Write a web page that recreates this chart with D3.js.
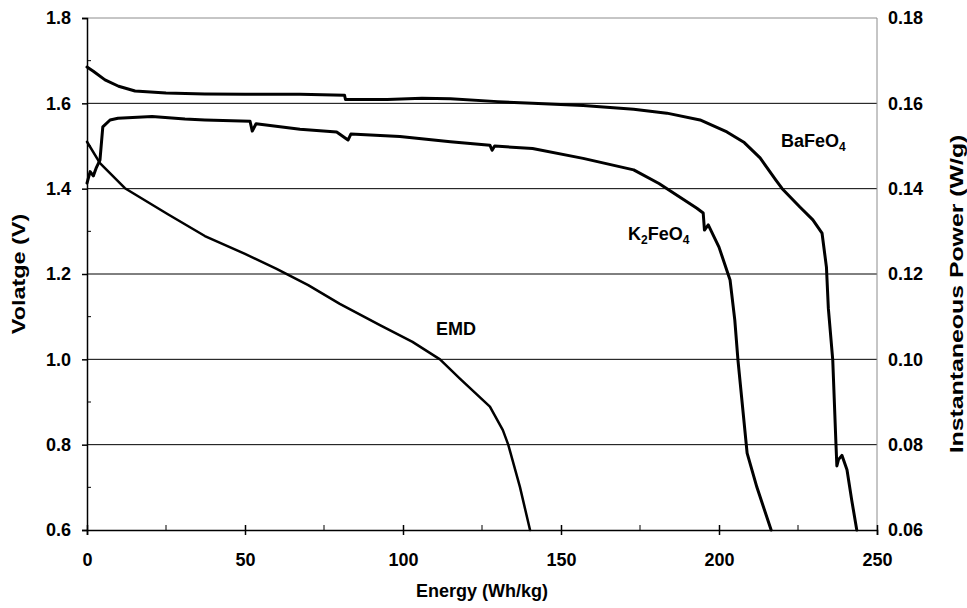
<!DOCTYPE html>
<html lang="en">
<head>
  <meta charset="UTF-8">
  <title>Discharge curves</title>
  <script src="https://d3js.org/d3.v7.min.js"></script>
  <style>
    body { margin: 0; background: #fff; font-family: "Liberation Sans", Arial, sans-serif; }
    .tick text { font-family: "Liberation Sans", Arial, sans-serif; font-weight: bold; font-size: 18px; fill: #000; }
    .title { font-weight: bold; font-size: 18px; }
    .curve { fill: none; stroke: #000; stroke-linejoin: round; stroke-linecap: round; }
    .lbl { font-weight: bold; font-size: 18px; }
  </style>
</head>
<body>
<svg id="chart" width="967" height="608"></svg>
<script>
  // energy (Wh/kg), voltage (V)
  const baEnergy = [0, 2, 5.7, 10, 15.2, 25, 37.3, 50, 67.4, 81.5, 81.8, 95, 106, 115, 130, 141, 157, 173, 183.5, 194, 202.5, 208, 213, 218, 220, 225.6, 229.7, 232.6, 234, 234.6, 236, 237, 237.3, 237.8, 238.9, 240.5, 242, 243.6];
  const baVolt   = [1.685, 1.675, 1.655, 1.64, 1.629, 1.624, 1.622, 1.621, 1.621, 1.619, 1.609, 1.609, 1.612, 1.611, 1.604, 1.600, 1.595, 1.586, 1.577, 1.561, 1.533, 1.508, 1.472, 1.42, 1.40, 1.357, 1.327, 1.296, 1.216, 1.12, 0.998, 0.804, 0.75, 0.765, 0.775, 0.741, 0.67, 0.6];

  const kEnergy = [0, 1, 2, 3, 4.1, 5, 7.3, 9.8, 20.6, 31, 37.3, 51.6, 52.3, 53.5, 67.4, 79, 82.6, 83.5, 99, 115, 127.5, 128.2, 129, 141, 157, 173, 181, 193, 195, 195.4, 196.6, 200, 203.5, 205, 206, 208.9, 212, 216.5];
  const kVolt   = [1.413, 1.44, 1.43, 1.45, 1.467, 1.545, 1.561, 1.565, 1.569, 1.563, 1.561, 1.558, 1.535, 1.552, 1.539, 1.533, 1.514, 1.528, 1.522, 1.510, 1.502, 1.49, 1.50, 1.494, 1.471, 1.444, 1.412, 1.354, 1.343, 1.303, 1.315, 1.263, 1.186, 1.092, 0.998, 0.78, 0.70, 0.6];

  const emdEnergy = [0, 4.1, 12, 25.6, 37.3, 50, 60, 70, 80, 92.7, 103, 111.7, 118, 127.5, 131.6, 133.3, 137, 140.2];
  const emdVolt   = [1.51, 1.46, 1.401, 1.340, 1.289, 1.247, 1.212, 1.174, 1.13, 1.080, 1.041, 1.0, 0.955, 0.889, 0.834, 0.8, 0.701, 0.6];

  const voltTicks = [0.6, 0.8, 1.0, 1.2, 1.4, 1.6, 1.8];
  const powerTicks = [0.06, 0.08, 0.10, 0.12, 0.14, 0.16, 0.18];
  const energyTicks = [0, 50, 100, 150, 200, 250];

  const svg = d3.select("#chart");
  const pLeft = 87, pRight = 877, pTop = 18, pBottom = 530;

  const x = d3.scaleLinear().domain([0, 250]).range([pLeft, pRight]);
  const y = d3.scaleLinear().domain([0.6, 1.8]).range([pBottom, pTop]);
  const y2 = d3.scaleLinear().domain([0.06, 0.18]).range([pBottom, pTop]);

  // gridlines
  svg.append("g")
    .selectAll("line")
    .data(voltTicks.filter(v => v > 0.6 && v < 1.8))
    .enter()
    .append("line")
    .attr("x1", pLeft).attr("x2", pRight)
    .attr("y1", d => y(d)).attr("y2", d => y(d))
    .attr("stroke", "#000").attr("stroke-width", 1);

  // plot border (top, right) in gray
  svg.append("path")
    .attr("d", `M${pLeft},${pTop}H${pRight}V${pBottom}`)
    .attr("fill", "none").attr("stroke", "#8c8c8c").attr("stroke-width", 1);

  // curves
  const line = d3.line().x(d => x(d[0])).y(d => y(d[1]));
  const series = [
    { e: baEnergy, v: baVolt, w: 3 },
    { e: kEnergy, v: kVolt, w: 3 },
    { e: emdEnergy, v: emdVolt, w: 2.5 }
  ];
  series.forEach(s => {
    svg.append("path")
      .attr("class", "curve")
      .attr("stroke-width", s.w)
      .attr("d", line(s.e.map((e, i) => [e, s.v[i]])));
  });

  // left axis: major ticks outward, minor ticks inward
  const yAxis = svg.append("g")
    .attr("transform", `translate(${pLeft},0)`)
    .call(d3.axisLeft(y).tickValues(voltTicks).tickFormat(d3.format(".1f")).tickSize(5).tickPadding(11));
  yAxis.select(".domain").attr("stroke", "#000").attr("stroke-width", 1.5);
  yAxis.selectAll(".tick line").attr("stroke", "#000").attr("stroke-width", 1.5);
  svg.append("g")
    .selectAll("line")
    .data([0.7, 0.9, 1.1, 1.3, 1.5, 1.7])
    .enter()
    .append("line")
    .attr("x1", pLeft).attr("x2", pLeft + 4)
    .attr("y1", d => y(d)).attr("y2", d => y(d))
    .attr("stroke", "#000").attr("stroke-width", 1);

  // bottom axis: major ticks cross, minor ticks inward
  const xAxis = svg.append("g")
    .attr("transform", `translate(0,${pBottom})`)
    .call(d3.axisBottom(x).tickValues(energyTicks).tickSize(5).tickPadding(18));
  xAxis.select(".domain").attr("stroke", "#000").attr("stroke-width", 1.5);
  xAxis.selectAll(".tick line").attr("y1", -5).attr("stroke", "#000").attr("stroke-width", 1.5);
  svg.append("g")
    .selectAll("line")
    .data([25, 75, 125, 175, 225])
    .enter()
    .append("line")
    .attr("x1", d => x(d)).attr("x2", d => x(d))
    .attr("y1", pBottom).attr("y2", pBottom - 5)
    .attr("stroke", "#000").attr("stroke-width", 1);

  // right axis: labels only
  const y2Axis = svg.append("g")
    .attr("transform", `translate(${pRight},0)`)
    .call(d3.axisRight(y2).tickValues(powerTicks).tickFormat(d3.format(".2f")).tickSize(0).tickPadding(11));
  y2Axis.select(".domain").remove();

  // axis titles (vertical ones are drawn a bit stretched, as in the original)
  svg.append("text").attr("class", "title")
    .attr("x", 482).attr("y", 597)
    .attr("text-anchor", "middle").text("Energy (Wh/kg)");
  svg.append("text").attr("class", "title")
    .attr("transform", `translate(25,274) rotate(-90) scale(1.3,1)`)
    .attr("text-anchor", "middle").text("Volatge (V)");
  svg.append("text").attr("class", "title")
    .attr("transform", `translate(963,294) rotate(-90) scale(1.38,1)`)
    .attr("text-anchor", "middle").text("Instantaneous Power (W/g)");

  // series labels
  const ba = svg.append("text").attr("class", "lbl").attr("x", 781).attr("y", 147);
  ba.append("tspan").text("BaFeO");
  ba.append("tspan").attr("font-size", 12).attr("dy", 4).text("4");

  const k = svg.append("text").attr("class", "lbl").attr("x", 628).attr("y", 240);
  k.append("tspan").text("K");
  k.append("tspan").attr("font-size", 12).attr("dy", 4).text("2");
  k.append("tspan").attr("dy", -4).text("FeO");
  k.append("tspan").attr("font-size", 12).attr("dy", 4).text("4");

  svg.append("text").attr("class", "lbl").attr("x", 436).attr("y", 335).text("EMD");
</script>
</body>
</html>
